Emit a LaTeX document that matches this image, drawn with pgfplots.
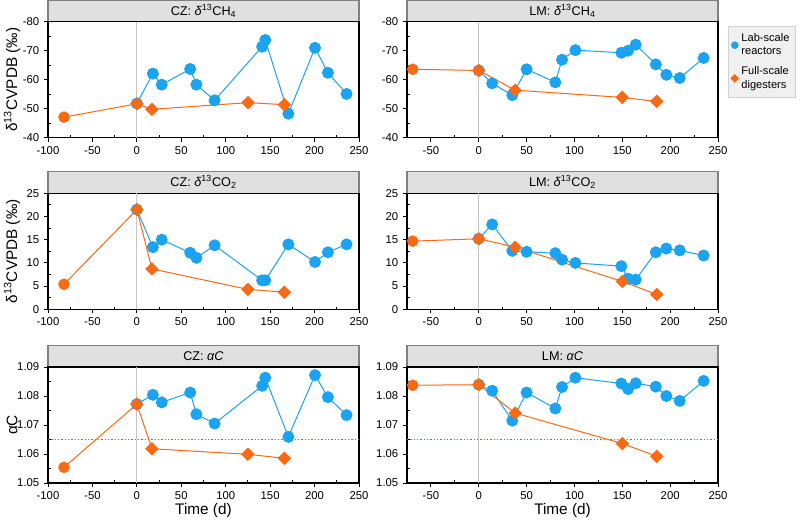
\documentclass[border=0pt]{standalone}
\usepackage{fontspec}
\setmainfont{Liberation Sans}
\usepackage{pgfplots}
\pgfplotsset{compat=1.18}
\definecolor{labblue}{RGB}{26,163,240}
\definecolor{fullor}{RGB}{250,105,20}
\definecolor{stripfill}{RGB}{224,224,224}
\definecolor{stripdraw}{RGB}{128,128,128}
\definecolor{refgreen}{RGB}{50,165,50}
\pgfplotsset{
  base/.style={
    scale only axis, width=233.25pt, height=87pt,
    axis line style={line width=0.9pt},
    tick align=outside, major tick length=3pt, minor tick length=2pt,
    minor x tick num=1, minor y tick num=1,
    xtick pos=bottom, ytick pos=left,
    tick style={black, line width=0.7pt},
    minor x tick style={yshift=2pt}, minor y tick style={xshift=2pt},
    ticklabel style={font=\fontsize{8.5}{10}\selectfont},
    /pgf/number format/assume math mode=true,
    clip=false,
    ylabel style={at={(axis description cs:0,0.5)}, anchor=center, yshift=27pt, font=\fontsize{11.5}{13}\selectfont},
    xlabel style={at={(axis description cs:0.5,0)}, anchor=center, yshift=-20.5pt, font=\fontsize{11.5}{13}\selectfont},
  },
  leftcol/.style={xmin=-100, xmax=250, xtick={-100,-50,...,250}},
  rightcol/.style={xmin=-75, xmax=250, xtick={-50,0,...,250}},
  ch4/.style={ymin=-80, ymax=-40, y dir=reverse, ytick={-80,-70,...,-40}},
  co2/.style={ymin=0, ymax=25, ytick={0,5,...,25}},
  ac/.style={ymin=1.05, ymax=1.09, ytick={1.05,1.06,1.07,1.08,1.09},
    yticklabel style={/pgf/number format/fixed, /pgf/number format/precision=2, /pgf/number format/fixed zerofill}},
  bl/.style={labblue, line width=0.75pt, mark=*, mark size=4.1pt, mark options={solid, fill=labblue, draw=labblue}},
  orl/.style={fullor, line width=0.75pt, mark=square*, mark size=3.2pt, mark options={solid, rotate=45, fill=fullor, draw=fullor}, mark indices={2,3,4,5}},
  orc/.style={only marks, mark=*, mark size=4.1pt, mark options={fill=fullor, draw=fullor}},
  zl/.style={gray!45, line width=0.6pt, forget plot},
  gl/.style={refgreen, mark=none, line width=0.8pt, dash pattern=on 0.9pt off 1.6pt, forget plot},
}
\newcommand{\strip}[2]{%
  \fill[stripfill] ([yshift=0.45pt]#1.north west) rectangle ([yshift=16.1pt]#1.north east);
  \draw[stripdraw, line width=0.9pt] ([yshift=0.45pt]#1.north west) -- ([yshift=16.1pt]#1.north west) -- ([yshift=16.1pt]#1.north east) -- ([yshift=0.45pt]#1.north east);
  \node[font=\fontsize{9.5}{11}\selectfont] at ([yshift=8.3pt]#1.north) {#2};
}
\begin{document}
\begin{tikzpicture}
\useasboundingbox (0,0) rectangle (600pt,390pt);
% ---------------- CZ CH4
\begin{axis}[base, leftcol, ch4, name=a1, at={(36pt,286.7pt)}, anchor=south west,
  ylabel={δ\textsuperscript{13}CVPDB (‰)}]
\addplot[zl] coordinates {(0,-80) (0,-40)};
\addplot[bl] coordinates {(0,-51.8) (18,-62.1) (28,-58.3) (60,-63.7) (67,-58.3) (87.5,-52.9) (141,-71.4) (144.5,-73.7) (170.5,-48.3) (200.5,-71) (215,-62.4) (236,-55.1)};
\addplot[orl] coordinates {(-82,-47.1) (0,-51.7) (17,-49.8) (125,-52.1) (166,-51.4)};
\addplot[orc] coordinates {(-82,-47.1)};
\end{axis}
% ---------------- LM CH4
\begin{axis}[base, rightcol, ch4, name=a2, at={(305.25pt,286.7pt)}, anchor=south west,
  legend style={at={(1.032,0.963)}, anchor=north west, fill=gray!12, draw=gray!35,
    font=\fontsize{8.3}{9.9}\selectfont, cells={align=left, anchor=west}, row sep=3.5pt,
    inner xsep=2pt, inner ysep=3.5pt}]
\addlegendimage{only marks, mark=*, mark size=2.6pt, mark options={fill=labblue, draw=labblue}}
\addlegendentry{Lab-scale\\reactors}
\addlegendimage{only marks, mark=square*, mark size=2.1pt, mark options={rotate=45, fill=fullor, draw=fullor}}
\addlegendentry{Full-scale\\digesters}
\addplot[zl] coordinates {(0,-80) (0,-40)};
\addplot[bl, forget plot] coordinates {(0,-63.2) (14,-58.75) (35,-54.7) (50,-63.6) (80,-59.1) (87,-66.9) (101,-70.2) (149,-69.3) (156,-70) (164,-72.1) (185,-65.3) (196,-61.7) (210,-60.6) (235,-67.5)};
\addplot[orl, forget plot] coordinates {(-69,-63.6) (0,-63.2) (38,-56.4) (150,-53.9) (186,-52.5)};
\addplot[orc, forget plot] coordinates {(-69,-63.6)};
\end{axis}
% ---------------- CZ CO2
\begin{axis}[base, leftcol, co2, name=a3, at={(36pt,158pt)}, anchor=south west,
  ylabel={δ\textsuperscript{13}CVPDB (‰)}]
\addplot[zl] coordinates {(0,0) (0,25)};
\addplot[bl] coordinates {(0,21.5) (18,13.4) (28,15) (60,12.2) (67,11.1) (87.5,13.8) (141,6.25) (144.5,6.25) (170.5,14.0) (200.5,10.2) (215,12.3) (236,14.0)};
\addplot[orl] coordinates {(-82,5.4) (0,21.5) (17,8.7) (125,4.3) (166,3.7)};
\addplot[orc] coordinates {(-82,5.4)};
\end{axis}
% ---------------- LM CO2
\begin{axis}[base, rightcol, co2, name=a4, at={(305.25pt,158pt)}, anchor=south west]
\addplot[zl] coordinates {(0,0) (0,25)};
\addplot[bl] coordinates {(0,15.2) (14,18.3) (35,12.6) (50,12.4) (80,12.1) (87,10.7) (101,10.0) (149,9.3) (156,6.6) (164,6.4) (185,12.3) (196,13.1) (210,12.7) (235,11.6)};
\addplot[orl] coordinates {(-69,14.7) (0,15.2) (38,13.4) (150,6.0) (186,3.2)};
\addplot[orc] coordinates {(-69,14.7)};
\end{axis}
% ---------------- CZ aC
\begin{axis}[base, leftcol, ac, name=a5, at={(36pt,27.75pt)}, anchor=south west,
  ylabel={αC}, xlabel={Time (d)}]
\addplot[zl] coordinates {(0,1.05) (0,1.09)};
\addplot[gl] coordinates {(-100,1.065) (250,1.065)};
\addplot[bl] coordinates {(0,1.0772) (18,1.0804) (28,1.0778) (60,1.0812) (67,1.0737) (87.5,1.0705) (141,1.0835) (144.5,1.0863) (170.5,1.0659) (200.5,1.0872) (215,1.0796) (236,1.0734)};
\addplot[orl] coordinates {(-82,1.0554) (0,1.0772) (17,1.0618) (125,1.0599) (166,1.0585)};
\addplot[orc] coordinates {(-82,1.0554)};
\end{axis}
% ---------------- LM aC
\begin{axis}[base, rightcol, ac, name=a6, at={(305.25pt,27.75pt)}, anchor=south west,
  xlabel={Time (d)}]
\addplot[zl] coordinates {(0,1.05) (0,1.09)};
\addplot[gl] coordinates {(-75,1.065) (250,1.065)};
\addplot[bl] coordinates {(0,1.0839) (14,1.0818) (35,1.0715) (50,1.0812) (80,1.0757) (87,1.0831) (101,1.0863) (149,1.0843) (156,1.0824) (164,1.0844) (185,1.0832) (196,1.0800) (210,1.0783) (235,1.0852)};
\addplot[orl] coordinates {(-69,1.0837) (0,1.0839) (38,1.0741) (150,1.0636) (186,1.0592)};
\addplot[orc] coordinates {(-69,1.0837)};
\end{axis}
\strip{a1}{CZ: \textit{δ}\textsuperscript{13}CH\textsubscript{4}}
\strip{a2}{LM: \textit{δ}\textsuperscript{13}CH\textsubscript{4}}
\strip{a3}{CZ: \textit{δ}\textsuperscript{13}CO\textsubscript{2}}
\strip{a4}{LM: \textit{δ}\textsuperscript{13}CO\textsubscript{2}}
\strip{a5}{CZ: \textit{αC}}
\strip{a6}{LM: \textit{αC}}
\end{tikzpicture}
\end{document}
